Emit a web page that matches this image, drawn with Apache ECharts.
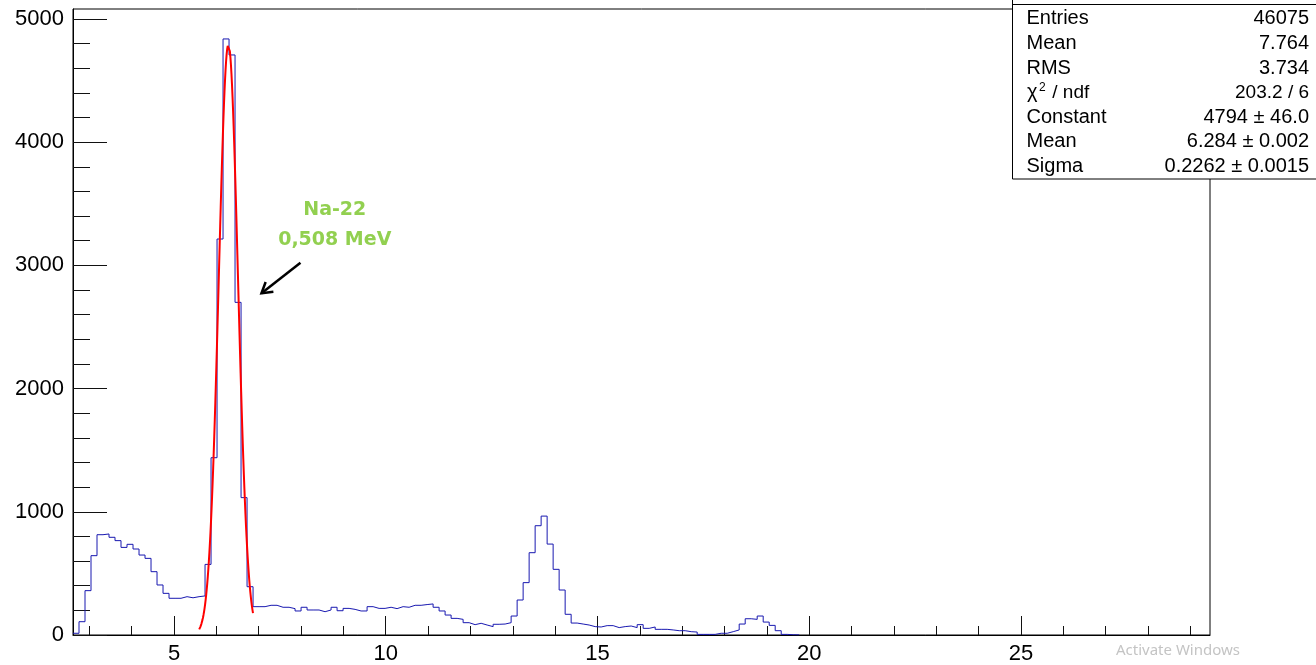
<!DOCTYPE html>
<html><head><meta charset="utf-8">
<script src="https://cdn.jsdelivr.net/npm/echarts@6/dist/echarts.min.js"></script>
<style>html,body{margin:0;padding:0;background:#fff}#c{width:1316px;height:665px}</style>
</head><body><div id="c"></div>
<script>
// ---------- data ----------
const X_MIN = 2.614, X_MAX = 29.466;
const Y_MIN = 0, Y_MAX = 5081;
const BIN_START = 2.614;
const BIN_WIDTH = 0.14174;
const COUNTS = [
  14, 108, 360, 644, 814, 820, 793, 766, 711, 736, 698, 649, 622, 514, 406, 338, 298, 298, 311, 302, 311, 317,
  573, 1439, 3214, 4838, 4708, 2700, 1115, 392, 230,
  230, 241, 241, 225, 225, 214, 195, 225, 203, 203, 189,
  203, 225, 197, 216, 208, 195, 195, 230, 216, 216, 225, 214, 230, 225, 241, 241, 247, 252, 225, 195,
  162, 135, 127, 100, 84, 95, 81, 68, 87, 89, 100, 154, 284, 425, 668, 887, 965, 738, 533, 365, 168, 97,
  89, 81, 68, 65,
  76, 76, 60, 68, 73, 60, 84, 54, 65, 46, 46, 41, 35, 35, 27, 24, 5, 5, 5, 14,
  14, 27, 41, 89, 132, 127, 154, 105, 78, 35, 5, 2, 1
];
const X_MAJOR = [5, 10, 15, 20, 25];
const X_MINOR = [3, 4, 6, 7, 8, 9, 11, 12, 13, 14, 16, 17, 18, 19, 21, 22, 23, 24, 26, 27, 28, 29];
const Y_MAJOR = [0, 1000, 2000, 3000, 4000, 5000];
const Y_MINOR = [200, 400, 600, 800, 1200, 1400, 1600, 1800, 2200, 2400, 2600, 2800, 3200, 3400, 3600, 3800, 4200, 4400, 4600, 4800];
const FIT_CONSTANT = 4794, FIT_MEAN = 6.284, FIT_SIGMA = 0.2262;
const FIT_RANGE = [5.594, 6.865];
const STATS_LABELS = ['Entries', 'Mean', 'RMS', 'χ2 / ndf', 'Constant', 'Mean', 'Sigma'];
const STATS_VALUES = ['46075', '7.764', '3.734', '203.2 / 6', '4794 ± 46.0', '6.284 ± 0.002', '0.2262 ± 0.0015'];
const ANNOT_LINES = ['Na-22', '0,508 MeV'];
const ANNOT_POS = [[8.796, 3450], [8.796, 3209]];
const ARROW_FROM = [7.986, 3022], ARROW_TO = [7.065, 2774];

// ---------- build ----------
const histData = [];
COUNTS.forEach((c, i) => {
  histData.push([BIN_START + i * BIN_WIDTH, c]);
  histData.push([BIN_START + (i + 1) * BIN_WIDTH, c]);
});
const fitData = [];
const NP = 100;
for (let k = 0; k <= NP; k++) {
  const x = FIT_RANGE[0] + (FIT_RANGE[1] - FIT_RANGE[0]) * k / NP;
  const z = (x - FIT_MEAN) / FIT_SIGMA;
  fitData.push([x, FIT_CONSTANT * Math.exp(-0.5 * z * z)]);
}

const chart = echarts.init(document.getElementById('c'), null, {renderer: 'canvas'});
const FONT = '"Liberation Sans", Arial, sans-serif';
const tickStyle = {color: '#111', width: 1};
const plain = v => String(v);
chart.setOption({
  animation: false,
  backgroundColor: '#fff',
  grid: {left: 73, top: 9, width: 1137, height: 626, show: true, borderColor: '#000', borderWidth: 1, backgroundColor: 'transparent'},
  xAxis: [
    {type: 'value', min: X_MIN, max: X_MAX, position: 'bottom',
     axisLine: {show: true, onZero: false, lineStyle: {color: '#000', width: 1}},
     axisTick: {show: true, inside: true, length: 19, customValues: X_MAJOR, lineStyle: tickStyle},
     axisLabel: {show: true, customValues: X_MAJOR, formatter: plain, fontSize: 22, color: '#000', fontFamily: FONT, margin: 8},
     splitLine: {show: false}},
    {type: 'value', min: X_MIN, max: X_MAX, position: 'bottom',
     axisLine: {show: false, onZero: false},
     axisTick: {show: true, inside: true, length: 9, customValues: X_MINOR, lineStyle: tickStyle},
     axisLabel: {show: false}, splitLine: {show: false}}
  ],
  yAxis: [
    {type: 'value', min: Y_MIN, max: Y_MAX, position: 'left',
     axisLine: {show: true, onZero: false, lineStyle: {color: '#000', width: 1}},
     axisTick: {show: true, inside: true, length: 34, customValues: Y_MAJOR, lineStyle: tickStyle},
     axisLabel: {show: true, customValues: Y_MAJOR, formatter: plain, fontSize: 22, color: '#000', fontFamily: FONT, margin: 9},
     splitLine: {show: false}},
    {type: 'value', min: Y_MIN, max: Y_MAX, position: 'left',
     axisLine: {show: false, onZero: false},
     axisTick: {show: true, inside: true, length: 17, customValues: Y_MINOR, lineStyle: tickStyle},
     axisLabel: {show: false}, splitLine: {show: false}}
  ],
  series: [
    {type: 'line', xAxisIndex: 0, yAxisIndex: 0, data: histData, showSymbol: false, symbol: 'none',
     lineStyle: {color: '#1818b0', width: 1}, z: 3},
    {type: 'line', xAxisIndex: 0, yAxisIndex: 0, data: fitData, showSymbol: false, symbol: 'none', smooth: false,
     lineStyle: {color: '#ff0000', width: 2}, z: 4}
  ]
});

// ---------- annotations & stats box ----------
function px(p) { return chart.convertToPixel({xAxisIndex: 0, yAxisIndex: 0}, p); }
const g = [];
ANNOT_LINES.forEach((t, i) => {
  const p = px(ANNOT_POS[i]);
  g.push({type: 'text', x: p[0], y: p[1], z: 20,
    style: {text: t, fill: '#92d050', font: 'bold 19px "DejaVu Sans"', textAlign: 'center', textVerticalAlign: 'middle'}});
});
const a0 = px(ARROW_FROM), a1 = px(ARROW_TO);
const ang = Math.atan2(a0[1] - a1[1], a0[0] - a1[0]);
const hl = 12, spread = 0.55;
g.push({type: 'line', z: 20, shape: {x1: a0[0], y1: a0[1], x2: a1[0], y2: a1[1]}, style: {stroke: '#000', lineWidth: 2.5}});
g.push({type: 'polyline', z: 20, shape: {points: [
  [a1[0] + hl * Math.cos(ang + spread), a1[1] + hl * Math.sin(ang + spread)],
  [a1[0], a1[1]],
  [a1[0] + hl * Math.cos(ang - spread), a1[1] + hl * Math.sin(ang - spread)]]},
  style: {stroke: '#000', lineWidth: 2.5, fill: null, lineJoin: 'miter'}});

// stats box
g.push({type: 'rect', z: 30, shape: {x: 1012.5, y: -40, width: 320, height: 219}, style: {fill: '#fff', stroke: '#000', lineWidth: 1}});
g.push({type: 'line', z: 31, shape: {x1: 1012.5, y1: 4.5, x2: 1316, y2: 4.5}, style: {stroke: '#000', lineWidth: 1}});
const rowY = [18.8, 43.3, 68.3, 92.8, 117.3, 141.8, 166.3];
STATS_LABELS.forEach((lab, i) => {
  if (lab.startsWith('χ2')) {
    g.push({type: 'text', z: 32, x: 1027, y: rowY[i], style: {text: 'χ', font: '20px "Liberation Sans"', fill: '#000', textAlign: 'left', textVerticalAlign: 'middle'}});
    g.push({type: 'text', z: 32, x: 1039, y: 87.5, style: {text: '2', font: '12px "Liberation Sans"', fill: '#000', textAlign: 'left', textVerticalAlign: 'middle'}});
    g.push({type: 'text', z: 32, x: 1047, y: rowY[i], style: {text: ' / ndf', font: '19px "Liberation Sans"', fill: '#000', textAlign: 'left', textVerticalAlign: 'middle'}});
  } else {
    g.push({type: 'text', z: 32, x: 1026.5, y: rowY[i], style: {text: lab, font: '20px "Liberation Sans"', fill: '#000', textAlign: 'left', textVerticalAlign: 'middle'}});
  }
  g.push({type: 'text', z: 32, x: 1309, y: rowY[i], style: {text: STATS_VALUES[i], font: (i === 3 ? '19px' : '20px') + ' "Liberation Sans"', fill: '#000', textAlign: 'right', textVerticalAlign: 'middle'}});
});
// screenshot watermark
g.push({type: 'text', z: 40, x: 1116, y: 651, style: {text: 'Activate Windows', font: '15px "Noto Sans"', fill: '#c4c4c4', textAlign: 'left', textVerticalAlign: 'middle'}});
g.push({type: 'text', z: 40, x: 1116, y: 671, style: {text: 'Go to Settings to activate Windows.', font: '13px "Noto Sans"', fill: '#c4c4c4', textAlign: 'left', textVerticalAlign: 'middle'}});
chart.setOption({graphic: g});
</script>
</body></html>
